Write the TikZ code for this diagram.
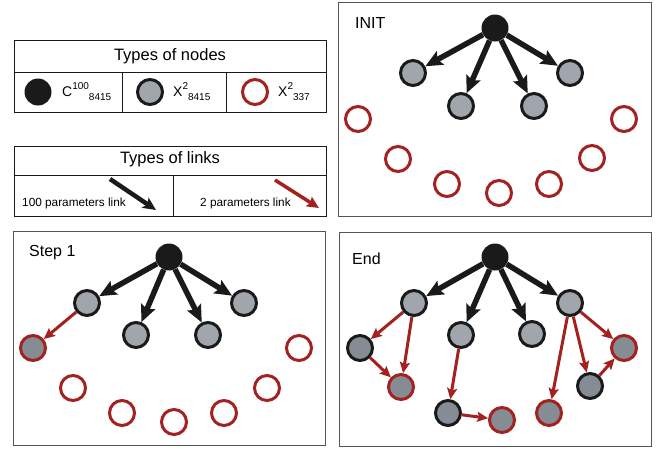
\documentclass[tikz,border=0pt]{standalone}
\usepackage{fontspec}
\setmainfont{Liberation Sans}
\usetikzlibrary{arrows.meta}
\definecolor{dred}{HTML}{A3211F}
\definecolor{lgrey}{HTML}{A0A6AC}
\definecolor{dgrey}{HTML}{858C93}
\definecolor{pborder}{HTML}{555555}
\definecolor{nblack}{HTML}{1A1A1A}
\newcommand{\scr}[2]{\raisebox{#1}{\fontsize{10}{10}\selectfont #2}}
\begin{document}
\begin{tikzpicture}[x=1pt,y=-1pt,
  panel/.style={draw=pborder,line width=1pt},
  tbl/.style={draw=nblack,line width=1pt},
  rootn/.style={circle,fill=nblack,minimum size=27pt,inner sep=0pt},
  gnode/.style={circle,draw=nblack,fill=lgrey,line width=3pt,minimum size=25pt,inner sep=0pt},
  dnode/.style={gnode,fill=dgrey},
  rnode/.style={circle,draw=dred,line width=3pt,minimum size=25pt,inner sep=0pt},
  rfnode/.style={rnode,fill=dgrey},
  blk/.style={draw=nblack,line width=5.5pt,-{Stealth[length=17pt,width=15pt,inset=3pt]}},
  redge/.style={draw=dred,line width=3pt,-{Stealth[length=11pt,width=10pt,inset=2pt]}},
  lbl/.style={anchor=west,font=\fontsize{16}{19}\selectfont,inner sep=0pt},
  hdr/.style={font=\fontsize{16.5}{19}\selectfont,inner sep=0pt},
  small/.style={font=\fontsize{11.8}{14}\selectfont,inner sep=0pt},
  sym/.style={anchor=base west,inner sep=0pt,font=\fontsize{14}{16}\selectfont},
]
\useasboundingbox (0,0) rectangle (663,448);

% ---------- Legend: types of nodes ----------
\draw[tbl] (14,40) rectangle (326,112);
\draw[tbl] (14,72) -- (326,72);
\draw[tbl] (122,72) -- (122,112);
\draw[tbl] (226,72) -- (226,112);
\node[hdr] (tn) at (170,56) {Types of nodes};
\node[rootn] (lc) at (38,92) {};
\node[gnode] (lg) at (150,92) {};
\node[rnode] (lr) at (255,92) {};
\node[sym] (tc) at (62,96) {C\scr{7pt}{100}\scr{-4.5pt}{8415}};
\node[sym] (tg) at (173,96) {X\scr{7pt}{2}\scr{-4.5pt}{8415}};
\node[sym] (tr) at (278,96) {X\scr{7pt}{2}\scr{-4.5pt}{337}};

% ---------- Legend: types of links ----------
\draw[tbl] (14,146) rectangle (326,216);
\draw[tbl] (14,175) -- (326,175);
\draw[tbl] (173,175) -- (173,216);
\node[hdr] (tl) at (170,159) {Types of links};
\node[small,anchor=west] (l100) at (22,203) {100 parameters link};
\node[small,anchor=west] (l2) at (200,203) {2 parameters link};
\coordinate (ba) at (110,179);
\coordinate (bb) at (156,210);
\coordinate (ra) at (275,180);
\coordinate (rb) at (319,208);
\draw[draw=nblack,line width=4.5pt,-{Stealth[length=13pt,width=12pt,inset=3pt]}] (ba) -- (bb);
\draw[draw=dred,line width=3.5pt,-{Stealth[length=12pt,width=11pt,inset=2pt]}] (ra) -- (rb);

% ---------- INIT panel ----------
\draw[panel] (338,2) rectangle (651,216);
\node[lbl] (tinit) at (355,23) {INIT};
\node[rootn] (ia) at (495,28) {};
\node[gnode] (ig1) at (413,73) {};
\node[gnode] (ig2) at (461,106) {};
\node[gnode] (ig3) at (534,106) {};
\node[gnode] (ig4) at (570,73) {};
\foreach \n/\p in {1/{(358,119)},2/{(398,159)},3/{(447,184)},4/{(499,193)},5/{(549,184)},6/{(592,158)},7/{(624,119)}}
  \node[rnode] (ir\n) at \p {};
\foreach \n in {1,...,4} \draw[blk] (ia) -- (ig\n);

% ---------- Step 1 panel ----------
\draw[panel] (13,231) rectangle (325,445);
\node[lbl] (tstep) at (29,253) {Step 1};
\node[rootn] (sa) at (169,257) {};
\node[gnode] (sg1) at (87,303) {};
\node[gnode] (sg2) at (136,335) {};
\node[gnode] (sg3) at (208,335) {};
\node[gnode] (sg4) at (244,303) {};
\node[rfnode] (sf) at (33,348) {};
\foreach \n/\p in {1/{(73,388)},2/{(122,413)},3/{(174,422)},4/{(224,413)},5/{(267,388)},6/{(299,348)}}
  \node[rnode] (sr\n) at \p {};
\foreach \n in {1,...,4} \draw[blk] (sa) -- (sg\n);
\draw[redge] (sg1) -- (sf);

% ---------- End panel ----------
\draw[panel] (339,232) rectangle (651,446);
\node[lbl] (tend) at (352,259) {End};
\node[rootn] (ea) at (495,257) {};
\node[gnode] (eg1) at (414,303) {};
\node[gnode] (eg2) at (461,335) {};
\node[gnode] (eg3) at (532,334) {};
\node[gnode] (eg4) at (570,303) {};
\node[dnode] (ed1) at (360,348) {};
\node[dnode] (ed2) at (448,413) {};
\node[dnode] (ed3) at (590,386) {};
\node[rfnode] (er1) at (401,387) {};
\node[rfnode] (er2) at (502,420) {};
\node[rfnode] (er3) at (549,413) {};
\node[rfnode] (er4) at (624,348) {};
\foreach \n in {1,...,4} \draw[blk] (ea) -- (eg\n);
\draw[redge] (eg1) -- (ed1);
\draw[redge] (eg1) -- (er1);
\draw[redge] (ed1) -- (er1);
\draw[redge] (eg2) -- (ed2);
\draw[redge] (ed2) -- (er2);
\draw[redge] (eg4) -- (er3);
\draw[redge] (eg4) -- (ed3);
\draw[redge] (eg4) -- (er4);
\draw[redge] (ed3) -- (er4);
\end{tikzpicture}
\end{document}
